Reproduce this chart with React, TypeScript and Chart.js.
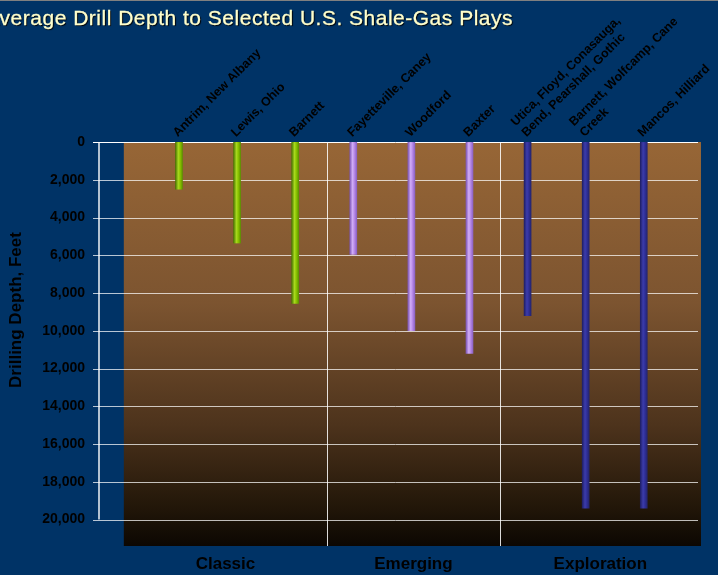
import React, { useEffect, useRef } from "react";
import { Chart, registerables } from "chart.js";

Chart.register(...registerables);

const TITLE = "Average Drill Depth to Selected U.S. Shale-Gas Plays";
const Y_TITLE = "Drilling Depth, Feet";
const PLAYS: (string | string[])[] = [
  "Antrim, New Albany",
  "Lewis, Ohio",
  "Barnett",
  "Fayetteville, Caney",
  "Woodford",
  "Baxter",
  ["Utica, Floyd, Conasauga,", "Bend, Pearshall, Gothic"],
  ["Barnett, Wolfcamp, Cane", "Creek"],
  "Mancos, Hilliard",
];
const DEPTHS = [2500, 5350, 8550, 5950, 10000, 11200, 9200, 19400, 19400];
const PLAY_GROUP = [0, 0, 0, 1, 1, 1, 2, 2, 2];
const GROUPS = ["Classic", "Emerging", "Exploration"];
const GROUP_EDGES = [-0.95, 2.55, 5.52, 8.985];
const Y_TICKS = [0, 2000, 4000, 6000, 8000, 10000, 12000, 14000, 16000, 18000, 20000];

const BAR_SHADES = [
  ["#4a7800", "#a8d820", "#8cc400", "#5e9200"],
  ["#7e56b6", "#d2aef8", "#b88ae8", "#8c62c4"],
  ["#1f1f66", "#3c3cab", "#30309a", "#24246e"],
];

const FONT = "'Liberation Sans', Arial, sans-serif";

const decorPlugin = {
  id: "decor",
  beforeDraw(chart: any) {
    const { ctx, chartArea, scales } = chart;
    const xs = scales.x;
    const ys = scales.y;
    const left = xs.getPixelForValue(GROUP_EDGES[0]);
    const right = xs.getPixelForValue(GROUP_EDGES[GROUP_EDGES.length - 1]);
    const g = ctx.createLinearGradient(0, chartArea.top, 0, chartArea.bottom);
    g.addColorStop(0, "#976636");
    g.addColorStop(0.4, "#7c5430");
    g.addColorStop(0.7, "#4d331c");
    g.addColorStop(0.9, "#231709");
    g.addColorStop(1, "#0c0702");
    ctx.save();
    ctx.fillStyle = g;
    ctx.fillRect(left, chartArea.top, right - left, chartArea.bottom - chartArea.top);
    ctx.lineWidth = 1;
    for (const v of Y_TICKS) {
      const y = Math.round(ys.getPixelForValue(v)) + 0.5;
      ctx.strokeStyle = v === 0 ? "#ffffff" : "rgba(255,255,255,0.72)";
      ctx.beginPath();
      ctx.moveTo(chartArea.left - 6, y);
      ctx.lineTo(right - 3, y);
      ctx.stroke();
    }
    ctx.restore();
  },
  beforeDatasetsDraw(chart: any) {
    const { ctx, chartArea, scales } = chart;
    const xs = scales.x;
    const ys = scales.y;
    ctx.save();
    ctx.strokeStyle = "rgba(255,255,255,0.85)";
    ctx.lineWidth = 1;
    for (let i = 1; i < GROUP_EDGES.length - 1; i++) {
      const x = Math.round(xs.getPixelForValue(GROUP_EDGES[i])) + 0.5;
      ctx.beginPath();
      ctx.moveTo(x, chartArea.top);
      ctx.lineTo(x, chartArea.bottom);
      ctx.stroke();
    }
    ctx.strokeStyle = "rgba(255,255,255,0.7)";
    ctx.lineWidth = 2;
    ctx.beginPath();
    ctx.moveTo(chartArea.left, ys.getPixelForValue(Y_TICKS[0]));
    ctx.lineTo(chartArea.left, ys.getPixelForValue(Y_TICKS[Y_TICKS.length - 1]));
    ctx.stroke();
    ctx.restore();
  },
  afterDraw(chart: any) {
    const { ctx, chartArea, scales } = chart;
    const xs = scales.x;
    ctx.save();
    ctx.fillStyle = "#000";
    ctx.font = `bold 17px ${FONT}`;
    ctx.textAlign = "center";
    ctx.textBaseline = "middle";
    for (let i = 0; i < GROUPS.length; i++) {
      const a = xs.getPixelForValue(GROUP_EDGES[i]);
      const b = xs.getPixelForValue(GROUP_EDGES[i + 1]);
      ctx.fillText(GROUPS[i], (a + b) / 2, chartArea.bottom + 18);
    }
    ctx.translate(16, 310);
    ctx.rotate(-Math.PI / 2);
    ctx.fillText(Y_TITLE, 0, 0);
    ctx.restore();
  },
};

export default function App() {
  const ref = useRef<HTMLCanvasElement>(null);
  useEffect(() => {
    const chart = new Chart(ref.current as HTMLCanvasElement, {
      type: "bar",
      data: {
        labels: PLAYS.map((_, i) => i),
        datasets: [
          {
            data: DEPTHS,
            barThickness: 7,
            borderWidth: 0,
            backgroundColor: (c: any) => {
              const idx = c.dataIndex;
              const shades = BAR_SHADES[PLAY_GROUP[idx] ?? 0];
              const xs = c.chart.scales && c.chart.scales.x;
              if (idx === undefined || !xs) return shades[1];
              const px = xs.getPixelForValue(idx);
              if (!Number.isFinite(px)) return shades[1];
              const grad = c.chart.ctx.createLinearGradient(px - 3.5, 0, px + 3.5, 0);
              grad.addColorStop(0, shades[0]);
              grad.addColorStop(0.4, shades[1]);
              grad.addColorStop(0.65, shades[2]);
              grad.addColorStop(1, shades[3]);
              return grad;
            },
          } as any,
        ],
      },
      options: {
        animation: false,
        responsive: false,
        devicePixelRatio: 1,
        layout: { padding: { left: 0, right: 17, top: 0, bottom: 29 } },
        plugins: { legend: { display: false }, tooltip: { enabled: false }, title: { display: false } },
        scales: {
          x: {
            type: "linear",
            position: "top",
            offset: false,
            min: -1.377,
            max: 8.985,
            grid: { display: false, drawTicks: false, offset: false },
            border: { display: false },
            afterBuildTicks: (s: any) => {
              s.ticks = PLAYS.map((_, i) => ({ value: i }));
            },
            afterFit: (s: any) => {
              s.height = 142;
              s.paddingLeft = 0;
              s.paddingRight = 0;
            },
            ticks: {
              autoSkip: false,
              minRotation: 45,
              maxRotation: 45,
              padding: 2,
              labelOffset: 7,
              color: "#000",
              font: { family: FONT, size: 12.5, weight: "bold" },
              callback: (v: any) => PLAYS[v as number] ?? "",
            },
          },
          y: {
            type: "linear",
            reverse: true,
            min: 0,
            max: 21400,
            afterBuildTicks: (s: any) => {
              s.ticks = Y_TICKS.map((v) => ({ value: v }));
            },
            afterFit: (s: any) => {
              s.width = 99;
              s.paddingTop = 0;
              s.paddingBottom = 0;
            },
            border: { display: false },
            grid: { display: false, drawTicks: true, tickLength: 6 },
            ticks: {
              padding: 8,
              color: "#000",
              font: { family: FONT, size: 14, weight: "bold" },
              callback: (v: any) => Number(v).toLocaleString("en-US"),
            },
          },
        },
      } as any,
      plugins: [decorPlugin],
    });
    return () => chart.destroy();
  }, []);

  return (
    <div
      style={{
        position: "absolute",
        left: 0,
        top: 0,
        width: 718,
        height: 575,
        background: "#003366",
        overflow: "hidden",
      }}
    >
      <canvas
        ref={ref}
        width={718}
        height={575}
        style={{ position: "absolute", left: 0, top: 0, width: 718, height: 575 }}
      />
      <div style={{ position: "absolute", left: 0, top: 0, width: 718, height: 1, background: "#808080" }} />
      <div
        style={{
          position: "absolute",
          right: 205,
          top: 6,
          whiteSpace: "nowrap",
          fontFamily: FONT,
          fontSize: 21,
          letterSpacing: 0.5,
          color: "#ffffcc",
          textShadow: "1px 1px 1px #000",
          WebkitTextStroke: "0.3px #ffffcc",
          lineHeight: "normal",
        }}
      >
        {TITLE}
      </div>
    </div>
  );
}
